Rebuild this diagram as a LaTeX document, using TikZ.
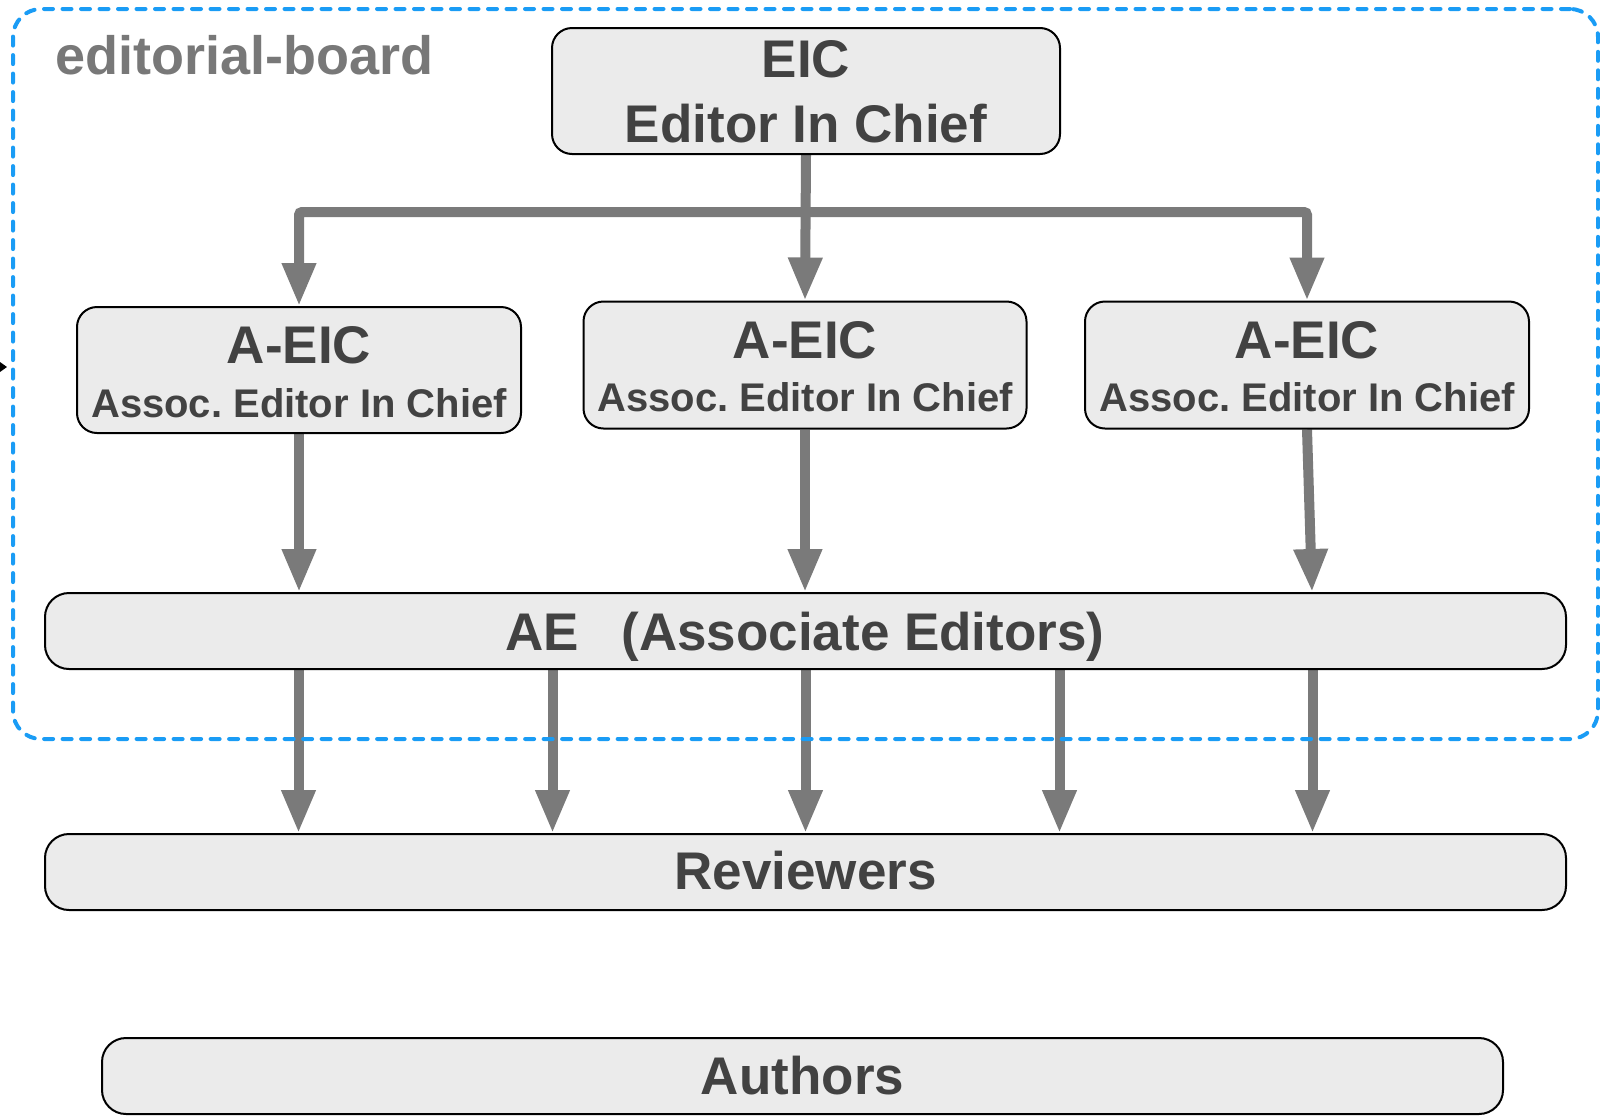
\documentclass[tikz,border=0pt]{standalone}
\usepackage{fontspec}
\setmainfont{Liberation Sans}
\usetikzlibrary{arrows.meta,calc}
\definecolor{boxfill}{HTML}{EBEBEB}
\definecolor{inktext}{HTML}{424242}
\definecolor{flow}{HTML}{7A7A7A}
\definecolor{boardblue}{HTML}{1A9CF5}
\definecolor{boardlabel}{HTML}{787878}
\pgfdeclarelayer{under}
\pgfsetlayers{under,main}
\frenchspacing
\begin{document}
\begin{tikzpicture}[x=1pt,y=-1pt,
  box/.style={draw=black, line width=2pt, fill=boxfill, rounded corners=20pt, inner sep=0pt},
  bigtext/.style={font=\bfseries\fontsize{53}{60}\selectfont, text=inktext, inner sep=0pt, anchor=base},
  smalltext/.style={font=\bfseries\fontsize{40}{46}\selectfont, text=inktext, inner sep=0pt, anchor=base},
  flowarrow/.style={draw=flow, line width=10pt, -{Triangle[length=43pt,width=32pt]}, rounded corners=3pt},
]
\useasboundingbox (0,0) rectangle (1600,1117);

% boxes
\node[box, minimum width=508pt, minimum height=126pt] (eic) at (806,91) {};
\node[box, minimum width=444pt, minimum height=126pt] (aeic1) at (299,370) {};
\node[box, minimum width=443pt, minimum height=127pt] (aeic2) at (805,365) {};
\node[box, minimum width=444pt, minimum height=127pt] (aeic3) at (1307,365) {};
\node[box, minimum width=1521pt, minimum height=76pt, rounded corners=24pt] (ae) at (805.5,631) {};
\node[box, minimum width=1521pt, minimum height=76pt, rounded corners=24pt] (rev) at (805.5,872) {};
\node[box, minimum width=1401pt, minimum height=76pt, rounded corners=24pt] (authors) at (802.5,1076) {};

% labels
\node[bigtext] (eic-abbr) at (806,77) {EIC};
\node[bigtext] (eic-name) at (806,142) {Editor In Chief};
\node[bigtext] (aeic1-abbr) at (299,363) {A-EIC};
\node[smalltext] (aeic1-name) at (299,417) {Assoc. Editor In Chief};
\node[bigtext] (aeic2-abbr) at (805,358) {A-EIC};
\node[smalltext] (aeic2-name) at (805,411) {Assoc. Editor In Chief};
\node[bigtext] (aeic3-abbr) at (1307,358) {A-EIC};
\node[smalltext] (aeic3-name) at (1307,411) {Assoc. Editor In Chief};
\node[bigtext] (ae-label) at (805,650) {AE\hspace{0.8em}(Associate Editors)};
\node[bigtext] (rev-label) at (805.5,889) {Reviewers};
\node[bigtext] (authors-label) at (802.5,1094) {Authors};

% connectors
\begin{pgfonlayer}{under}
  \coordinate (bus) at ($(eic.south)+(0,57)$);
  \draw[flowarrow] (eic.south) -- (aeic2.north);
  \draw[flowarrow] (bus) -| (aeic1.north);
  \draw[flowarrow] (bus) -| (aeic3.north);
  \draw[flowarrow] (aeic1.south) -- (aeic1.south |- ae.north);
  \draw[flowarrow] (aeic2.south) -- (aeic2.south |- ae.north);
  \draw[flowarrow] (aeic3.south) -- ($(aeic3.south |- ae.north)+(5,0)$);
  \foreach \dx in {-507,-253,0,254,507}
    \draw[flowarrow] ($(ae.south)+(\dx,0)$) -- ($(rev.north)+(\dx,0)$);
\end{pgfonlayer}

% editorial board group
\node[draw=boardblue, line width=4pt, dash pattern=on 9pt off 9.5pt, line cap=round,
      rounded corners=28pt, minimum width=1585pt, minimum height=730pt, inner sep=0pt]
      (board) at (805.5,374) {};
\node[font=\bfseries\fontsize{54}{60}\selectfont, text=boardlabel, anchor=base west, inner sep=0pt]
      (board-label) at (55,74) {editorial-board};

% incoming link at the left edge
\coordinate (feed) at (-30,367);
\coordinate (feedtip) at (7,367);
\draw[line width=1.5pt, -{Triangle[length=8pt,width=11pt]}] (feed) -- (feedtip);
\end{tikzpicture}
\end{document}
